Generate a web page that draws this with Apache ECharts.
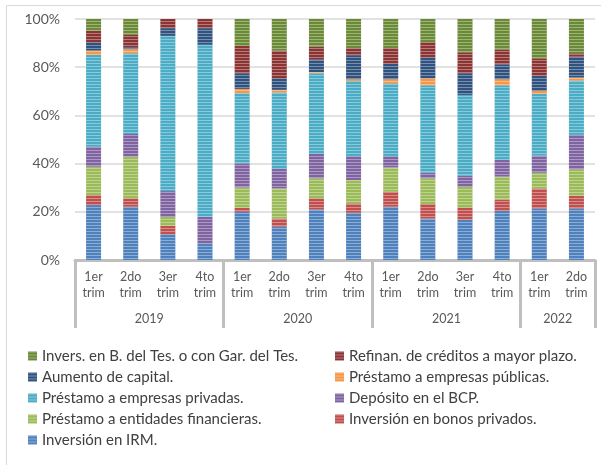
<!DOCTYPE html>
<html>
<head>
<meta charset="utf-8">
<script src="https://cdn.jsdelivr.net/npm/echarts@6/dist/echarts.min.js"></script>
<style>html,body{margin:0;padding:0;background:#fff}#c{width:601px;height:465px}</style>
</head>
<body>
<div id="c"></div>
<script>
const quarters = ['1er\ntrim','2do\ntrim','3er\ntrim','4to\ntrim','1er\ntrim','2do\ntrim','3er\ntrim','4to\ntrim','1er\ntrim','2do\ntrim','3er\ntrim','4to\ntrim','1er\ntrim','2do\ntrim'];
const yearSlots = ['','','2019','','','','2020','','','','2021','','','2022',''];
const yearBoundaries = [0,4,8,12,14];
const yTicks = [0,20,40,60,80,100];

const serIRM = [22.8,22.1,10.7,6.9,20.0,13.8,21.0,19.6,22.1,17.2,16.8,20.4,21.4,21.4];
const serBonos = [4.1,3.5,3.5,0,1.7,3.4,4.6,3.9,6.2,6.0,5.0,4.7,8.3,5.3];
const serEntidades = [11.8,17.3,3.7,0,8.4,12.5,8.3,9.7,10.1,10.7,8.6,9.5,6.5,10.9];
const serBCP = [8.3,9.4,10.7,11.0,10.0,8.3,10.1,9.9,4.7,2.3,4.6,6.9,7.1,14.3];
const serPrivadas = [38.1,33.5,64.4,71.4,29.1,31.5,33.5,31.2,30.2,36.3,33.5,31.0,25.6,22.6];
const serPublicas = [1.8,1.7,0,0,1.8,1.1,0.5,0.7,1.7,2.9,0,2.5,1.3,1.2];
const serCapital = [3.5,0.8,3.2,6.9,6.5,4.8,5.3,10.0,6.4,8.7,9.0,6.2,6.3,8.7];
const serRefinan = [4.8,5.1,3.8,3.8,11.3,11.5,5.2,2.9,6.5,6.3,8.7,6.0,7.2,1.4];
const serBTes = [4.8,6.6,0,0,11.2,13.1,11.5,12.1,12.1,9.6,13.8,12.8,16.3,14.2];

const names = {
  btes: 'Invers. en B. del Tes. o con Gar. del Tes.',
  refinan: 'Refinan. de créditos a mayor plazo.',
  capital: 'Aumento de capital.',
  publicas: 'Préstamo a empresas públicas.',
  privadas: 'Préstamo a empresas privadas.',
  bcp: 'Depósito en el BCP.',
  entidades: 'Préstamo a entidades financieras.',
  bonos: 'Inversión en bonos privados.',
  irm: 'Inversión en IRM.'
};

const stackDefs = [
  [names.irm, serIRM, '#4F81BD'],
  [names.bonos, serBonos, '#C0504D'],
  [names.entidades, serEntidades, '#9BBB59'],
  [names.bcp, serBCP, '#8064A2'],
  [names.privadas, serPrivadas, '#4BACC6'],
  [names.publicas, serPublicas, '#F79646'],
  [names.capital, serCapital, '#30527E'],
  [names.refinan, serRefinan, '#8C3434'],
  [names.btes, serBTes, '#6A8A36']
];

const font = 'Lato, "Open Sans", sans-serif';
const decal = {symbol:'rect', symbolSize:1, dashArrayX:[1,0], dashArrayY:[1,2], rotation:0, color:'rgba(255,255,255,0.35)'};

const series = stackDefs.map(d => ({
  name: d[0], type: 'bar', stack: 'total', data: d[1], barWidth: 15,
  itemStyle: {color: d[2], decal: decal}, xAxisIndex: 0, yAxisIndex: 0
}));

const legendCommon = {
  orient: 'vertical', icon: 'rect', itemWidth: 9, itemHeight: 9, itemGap: 3, padding: 0,
  textStyle: {fontFamily: font, fontSize: 15, color: '#404040', lineHeight: 18},
  top: 347
};

const chart = echarts.init(document.getElementById('c'), null, {renderer: 'canvas'});
chart.setOption({
  animation: false,
  aria: {enabled: false},
  textStyle: {fontFamily: font},
  graphic: [{type: 'rect', shape: {x: 6.5, y: 5.5, width: 700, height: 600}, style: {fill: 'none', stroke: '#D9D9D9', lineWidth: 1}, z: -1}],
  grid: {left: 75, right: 6, top: 19, bottom: 205, containLabel: false},
  legend: [
    Object.assign({}, legendCommon, {left: 28, data: [names.btes, names.capital, names.privadas, names.entidades, names.irm]}),
    Object.assign({}, legendCommon, {left: 335, data: [names.refinan, names.publicas, names.bcp, names.bonos]})
  ],
  xAxis: [
    {type: 'category', data: quarters, position: 'bottom',
     axisLine: {show: true, lineStyle: {color: '#BFBFBF', width: 3}},
     axisTick: {show: false},
     axisLabel: {interval: 0, margin: 9, fontSize: 12.5, lineHeight: 16, color: '#595959', fontFamily: font}},
    {type: 'category', data: yearSlots, position: 'bottom', boundaryGap: false,
     axisLine: {show: false},
     axisTick: {show: true, length: 68, interval: (i) => yearBoundaries.indexOf(i) >= 0, lineStyle: {color: '#BFBFBF', width: 3}},
     axisLabel: {interval: (i, v) => v !== '', margin: 52, fontSize: 12.5, color: '#595959', fontFamily: font}}
  ],
  yAxis: {type: 'value', min: yTicks[0], max: yTicks[yTicks.length - 1], interval: 20,
    axisLine: {show: false}, axisTick: {show: false},
    splitLine: {lineStyle: {color: '#D9D9D9', width: 1.5}},
    axisLabel: {formatter: '{value}%', margin: 15, fontSize: 14, color: '#595959', fontFamily: font}},
  series: series
});
</script>
</body>
</html>
